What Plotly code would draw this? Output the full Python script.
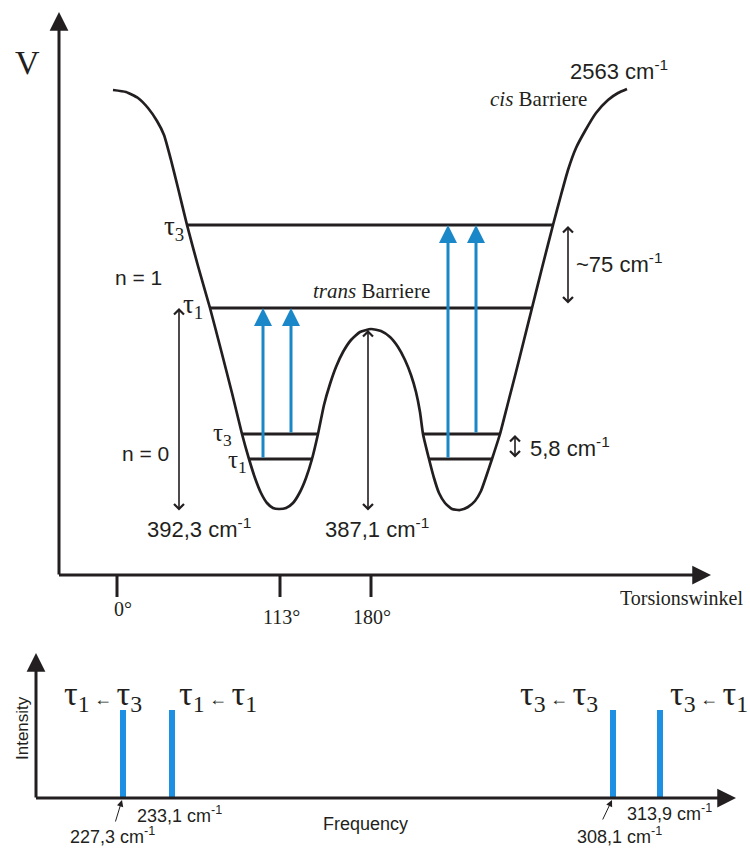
import plotly.graph_objects as go

# ---------------- data (schematic canvas units) ----------------
# potential curve V(torsion)
curve_x = [113, 126, 138, 148, 157, 164, 171, 178, 187, 198, 210, 221, 232, 242, 249, 255, 261, 267,
           273, 279, 286, 293, 300, 306, 312, 318, 324, 330, 336, 343, 351, 360, 371, 381, 390, 398,
           405, 411, 416, 420, 423, 429, 434, 439, 445, 452, 460, 468, 475, 481, 486, 492, 500, 508,
           516, 524, 532, 542, 553, 561, 568, 576, 585, 596, 608, 618, 627]
curve_y = [90, 92, 98, 108, 121, 135, 160, 188, 225, 266, 308, 350, 393, 434, 459, 478, 493, 503,
           508, 509, 508, 503, 492, 478, 459, 434, 405, 384, 367, 352, 340, 332, 329, 331, 337, 347,
           360, 375, 392, 412, 434, 459, 478, 493, 503, 509, 510, 507, 501, 491, 477, 459, 434, 403,
           372, 340, 308, 268, 225, 195, 170, 148, 131, 113, 100, 93, 89]

# torsional levels
upper_y = [225, 308]
upper_x0 = [187, 210]
upper_x1 = [553, 532]
well_y = [434, 459]
left_well_x0 = [242, 249]
left_well_x1 = [318, 312]
right_well_x0 = [423, 429]
right_well_x1 = [500, 492]

# transitions (blue arrows)
trans_x = [263, 291, 448, 476]
trans_from = [459, 434, 459, 434]
trans_to = [308, 308, 225, 225]

# torsion angle ticks
tick_labels = ["0°", "113°", "180°"]
tick_x = [117, 280, 371]

# spectrum
spec_labels = ["227,3", "233,1", "308,1", "313,9"]
spec_x = [123, 172, 613, 660]
spec_top = [710, 710, 710, 710]
spec_base = 798
assign = ["τ<sub>1</sub>{a}τ<sub>3</sub>", "τ<sub>1</sub>{a}τ<sub>1</sub>",
          "τ<sub>3</sub>{a}τ<sub>3</sub>", "τ<sub>3</sub>{a}τ<sub>1</sub>"]
assign_x = [62, 177, 518, 668]

INK = "#231f20"
BLUE = "#1a87c8"
BLUE2 = "#1e90e3"
SANS = "Liberation Sans, Arial, sans-serif"
SERIF = "Liberation Serif, Times New Roman, serif"

fig = go.Figure()

# potential curve
fig.add_trace(go.Scatter(x=curve_x, y=curve_y, mode="lines",
                         line=dict(color=INK, width=2.7, shape="spline", smoothing=0.5),
                         hoverinfo="skip", showlegend=False))

# levels
lx, ly = [], []
for y, a, b in zip(upper_y, upper_x0, upper_x1):
    lx += [a, b, None]; ly += [y, y, None]
for y, a, b in zip(well_y, left_well_x0, left_well_x1):
    lx += [a, b, None]; ly += [y, y, None]
for y, a, b in zip(well_y, right_well_x0, right_well_x1):
    lx += [a, b, None]; ly += [y, y, None]
fig.add_trace(go.Scatter(x=lx, y=ly, mode="lines", line=dict(color=INK, width=3),
                         hoverinfo="skip", showlegend=False))

# spectrum lines
sx, sy = [], []
for x, t in zip(spec_x, spec_top):
    sx += [x, x, None]; sy += [spec_base, t, None]
fig.add_trace(go.Scatter(x=sx, y=sy, mode="lines", line=dict(color=BLUE2, width=6),
                         hoverinfo="skip", showlegend=False))

ann = []


def arrow(x0, y0, x1, y1, color=INK, width=3, head=2, size=1.25, both=False):
    d = dict(x=x1, y=y1, ax=x0, ay=y0, xref="x", yref="y", axref="x", ayref="y",
             text="", showarrow=True, arrowcolor=color, arrowwidth=width,
             arrowhead=head, arrowsize=size, standoff=0, startstandoff=0)
    if both:
        d.update(arrowside="end+start", startarrowhead=head, startarrowsize=size)
    ann.append(d)


def text(x, y, s, size=21, font=SANS, xanchor="left", angle=0, yanchor="middle"):
    ann.append(dict(x=x, y=y, xref="x", yref="y", text=s, showarrow=False,
                    xanchor=xanchor, yanchor=yanchor, textangle=angle,
                    font=dict(family=font, size=size, color=INK)))


# axes of the potential diagram
arrow(59, 576, 59, 12)
arrow(57.5, 575, 711, 575)
for tx in tick_x:
    fig.add_shape(type="line", x0=tx, x1=tx, y0=575, y1=597, line=dict(color=INK, width=3))
tick_label_y = [609, 617, 617]
tick_label_x = [123, 281, 372]
for lab, x, y in zip(tick_labels, tick_label_x, tick_label_y):
    text(x, y, lab, size=20, font=SERIF, xanchor="center")
text(681, 598, "Torsionswinkel", size=20, font=SERIF, xanchor="center")
text(27, 62, "V", size=34, font=SERIF, xanchor="center")

# transitions
for x, a, b in zip(trans_x, trans_from, trans_to):
    arrow(x, a, x, b, color=BLUE, width=3, head=2, size=1.2)

# double arrows
arrow(179, 512, 179, 308, width=1.6, head=4, size=1.2, both=True)
arrow(368, 512, 368, 330, width=1.6, head=4, size=1.2, both=True)
arrow(568, 305, 568, 226, width=1.6, head=4, size=1.2, both=True)
arrow(515, 459, 515, 435, width=1.6, head=4, size=1.2, both=True)

# labels of potential diagram
text(568, 70, "2563 cm<sup>-1</sup>", size=22)
text(488, 99, "<i>cis</i> Barriere", size=21, font=SERIF)
text(371, 291, "<i>trans</i> Barriere", size=21, font=SERIF, xanchor="center")
text(174, 228, "τ<sub>3</sub>", size=27, font=SERIF, xanchor="center")
text(193, 306, "τ<sub>1</sub>", size=27, font=SERIF, xanchor="center")
text(222, 434, "τ<sub>3</sub>", size=25, font=SERIF, xanchor="center")
text(237, 461, "τ<sub>1</sub>", size=25, font=SERIF, xanchor="center")
text(113, 277, "n = 1", size=21)
text(120, 453, "n = 0", size=21)
text(574, 263, "~75 cm<sup>-1</sup>", size=22)
text(528, 447, "5,8 cm<sup>-1</sup>", size=22)
text(145, 528, "392,3 cm<sup>-1</sup>", size=22)
text(323, 528, "387,1 cm<sup>-1</sup>", size=22)

# spectrum axes
arrow(36, 799, 36, 653)
arrow(34.5, 798, 736, 798)
text(22, 728, "Intensity", size=17, xanchor="center", angle=-90)
text(365, 824, "Frequency", size=18, xanchor="center")

# spectrum labels
small_arrow = "<span style='font-size:18px'> ← </span>"
for s, x in zip(assign, assign_x):
    text(x, 696, s.format(a=small_arrow), size=34, font=SERIF)
text(135, 814, spec_labels[1] + " cm<sup>-1</sup>", size=18)
text(68, 835, spec_labels[0] + " cm<sup>-1</sup>", size=18)
text(625, 812, spec_labels[3] + " cm<sup>-1</sup>", size=18)
text(575, 835, spec_labels[2] + " cm<sup>-1</sup>", size=18)
arrow(115, 823, 122, 800, width=1, head=2, size=1.3)
arrow(602, 821, 612, 800, width=1, head=2, size=1.3)

fig.update_layout(
    width=750, height=848,
    margin=dict(l=0, r=0, t=0, b=0),
    paper_bgcolor="white", plot_bgcolor="white",
    xaxis=dict(range=[0, 750], visible=False, fixedrange=True),
    yaxis=dict(range=[848, 0], visible=False, fixedrange=True),
    annotations=ann,
    showlegend=False,
)

fig.write_html("out.html", config={"displayModeBar": False},
               post_script="document.body.style.margin='0';document.body.style.overflow='hidden';")
